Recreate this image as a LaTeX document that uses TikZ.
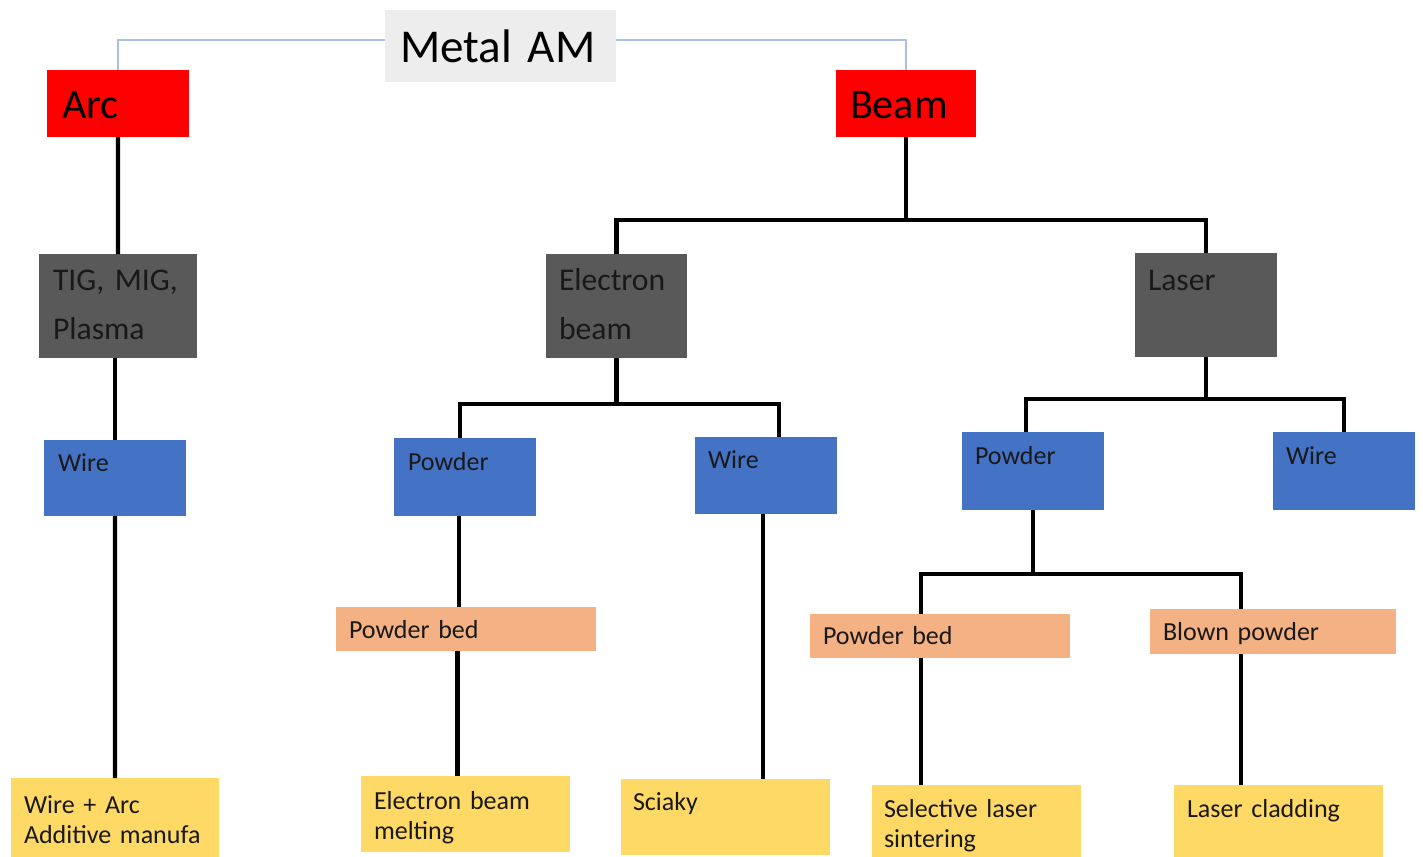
\documentclass[tikz,border=0pt]{standalone}
\usepackage{fontspec}
\setmainfont{Carlito}
\frenchspacing
\newcommand{\tightsp}{\spaceskip=0.15em\relax}

\definecolor{topgray}{HTML}{EDEDED}
\definecolor{arcred}{HTML}{FF0000}
\definecolor{darkbox}{HTML}{595959}
\definecolor{feedblue}{HTML}{4472C4}
\definecolor{bedorange}{HTML}{F4B183}
\definecolor{procyellow}{HTML}{FFD966}
\definecolor{toplink}{HTML}{A9C0E4}

\begin{document}
\begin{tikzpicture}[x=0.01cm,y=-0.01cm,
  box/.style={anchor=north west,inner ysep=0pt,outer sep=0pt,align=left},
  kind/.style={box,fill=arcred,font=\fontsize{12}{14}\selectfont\tightsp},
  source/.style={box,fill=darkbox,text=black!90,font=\fontsize{9}{14.2}\selectfont\tightsp},
  feed/.style={box,fill=feedblue,text=black!90,font=\fontsize{7.4}{8.6}\selectfont\tightsp},
  bed/.style={box,fill=bedorange,text=black!90,font=\fontsize{7.4}{8.6}\selectfont\tightsp},
  proc/.style={box,fill=procyellow,text=black!90,font=\fontsize{7.4}{8.6}\selectfont\tightsp},
  link/.style={line width=1.2pt},
  thinlink/.style={toplink,line width=0.5pt}]

\useasboundingbox (0,0) rectangle (1423,857);

% top
\node[box,fill=topgray,font=\fontsize{13.4}{16}\selectfont\tightsp,inner xsep=1.5mm,text width=20.1mm,text height=5.2mm,text depth=2.0mm] (metal) at (385,10) {Metal AM};
\node[kind,inner xsep=1.5mm,text width=11.2mm,text height=4.8mm,text depth=1.9mm] (arc) at (47,70) {Arc};
\node[kind,inner xsep=1.4mm,text width=11.2mm,text height=4.8mm,text depth=1.9mm] (beam) at (836,70) {Beam};

% heat sources
\node[source,inner xsep=1.4mm,text width=13.0mm,text height=3.6mm,text depth=6.8mm] (tig) at (39,254) {TIG, MIG,\\Plasma};
\node[source,inner xsep=1.3mm,text width=11.5mm,text height=3.6mm,text depth=6.8mm] (eb) at (546,254) {Electron\\beam};
\node[source,inner xsep=1.3mm,text width=11.6mm,text height=3.7mm,text depth=6.7mm] (laser) at (1135,253) {Laser};

% feedstock
\node[feed,inner xsep=1.4mm,text width=11.4mm,text height=3.1mm,text depth=4.5mm] (wireA) at (44,440) {Wire};
\node[feed,inner xsep=1.4mm,text width=11.4mm,text height=3.2mm,text depth=4.6mm] (powderE) at (394,438) {Powder};
\node[feed,inner xsep=1.3mm,text width=11.6mm,text height=3.1mm,text depth=4.6mm] (wireE) at (695,437) {Wire};
\node[feed,inner xsep=1.3mm,text width=11.6mm,text height=3.2mm,text depth=4.6mm] (powderL) at (962,432) {Powder};
\node[feed,inner xsep=1.3mm,text width=11.6mm,text height=3.2mm,text depth=4.6mm] (wireL) at (1273,432) {Wire};

% delivery
\node[bed,inner xsep=1.3mm,text width=23.4mm,text height=3.1mm,text depth=1.3mm] (bedE) at (336,607) {Powder bed};
\node[bed,inner xsep=1.3mm,text width=23.4mm,text height=3.0mm,text depth=1.4mm] (bedL) at (810,614) {Powder bed};
\node[bed,inner xsep=1.3mm,text width=22.0mm,text height=3.1mm,text depth=1.4mm] (blown) at (1150,609) {Blown powder};

% processes
\node[proc,inner xsep=1.3mm,text width=18.2mm,text height=3.5mm,text depth=4.4mm] (waam) at (11,778) {Wire + Arc\\Additive manufa};
\node[proc,inner xsep=1.3mm,text width=18.3mm,text height=3.3mm,text depth=4.3mm] (ebm) at (361,776) {Electron beam\\melting};
\node[proc,inner xsep=1.2mm,text width=18.5mm,text height=3.1mm,text depth=4.5mm] (sciaky) at (621,779) {Sciaky};
\node[proc,inner xsep=1.2mm,text width=18.5mm,text height=3.2mm,text depth=4.0mm] (sls) at (872,785) {Selective laser\\sintering};
\node[proc,inner xsep=1.3mm,text width=18.3mm,text height=3.2mm,text depth=4.0mm] (clad) at (1174,785) {Laser cladding};

% links
\draw[thinlink] ([yshift=0.6mm]metal.west) -| (arc.north);
\draw[thinlink] ([yshift=0.6mm]metal.east) -| (beam.north);

\draw[link] (arc.south) -- (tig.north);
\draw[link] (wireA.north |- tig.south) -- (wireA.north);
\draw[link] (wireA.south) -- (waam.north);

\draw[link] (beam.south) -- ++(0,83) coordinate (bsplit) -| (eb.north);
\draw[link] (bsplit) -| (laser.north);

\draw[link] (eb.south) -- ++(0,46) coordinate (esplit) -| ([xshift=-0.5mm]powderE.north);
\draw[link] (esplit) -| ([xshift=1.3mm]wireE.north);
\draw[link] ([xshift=-0.6mm]powderE.south) coordinate (pe) -- (pe |- bedE.north);
\draw[link] ([xshift=-0.8mm]ebm.north) coordinate (em) -- (em |- bedE.south);
\draw[link] ([xshift=-0.3mm]wireE.south) coordinate (we) -- (we |- sciaky.north);

\draw[link] (laser.south) -- ++(0,42) coordinate (lsplit) -| ([xshift=-0.7mm]powderL.north);
\draw[link] (lsplit) -| (wireL.north);
\draw[link] (powderL.south) -- ++(0,64) coordinate (psplit) -| ([xshift=-1.9mm]bedL.north);
\draw[link] (psplit) -| ([xshift=-3.2mm]blown.north);
\draw[link] ([xshift=-1.9mm]bedL.south) coordinate (bl) -- (bl |- sls.north);
\draw[link] ([xshift=-3.2mm]blown.south) coordinate (bw) -- (bw |- clad.north);

\end{tikzpicture}
\end{document}
